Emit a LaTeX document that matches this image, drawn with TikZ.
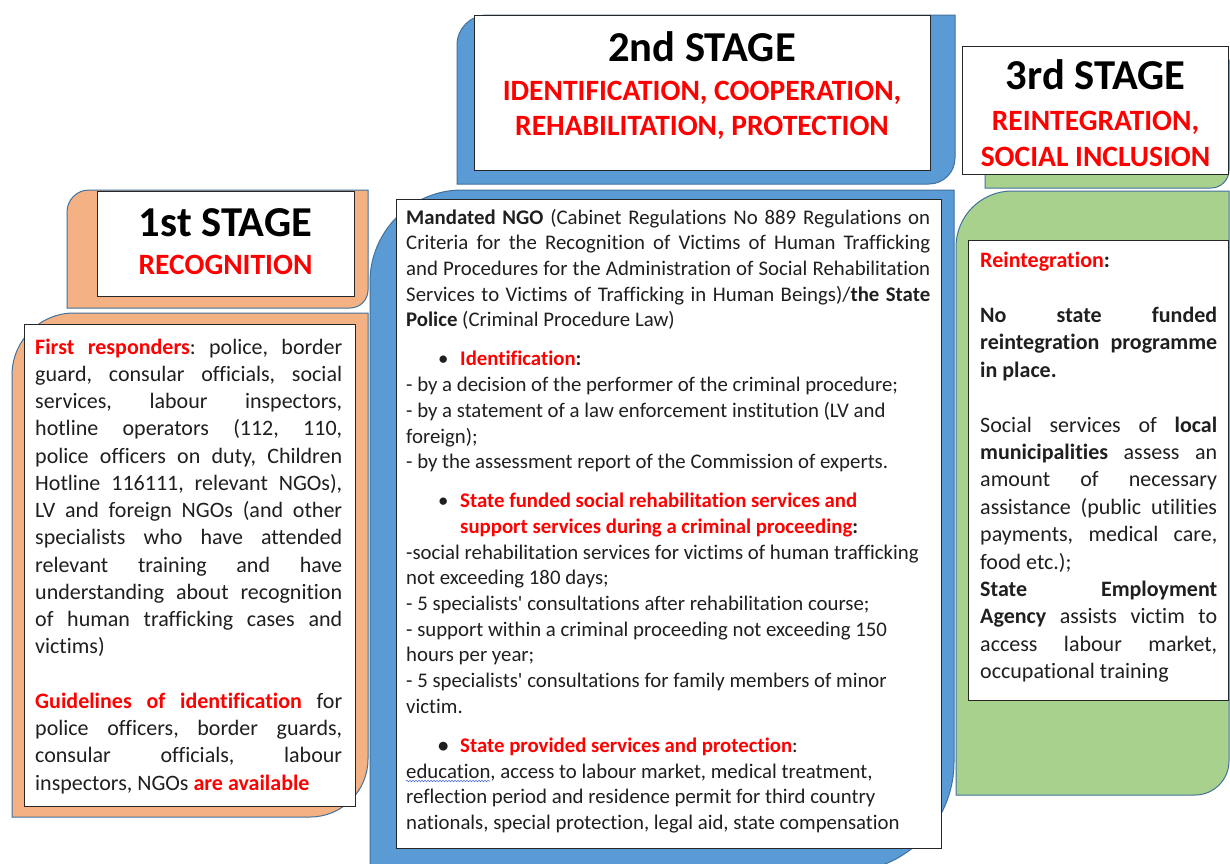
\documentclass[tikz,border=0pt]{standalone}
\usepackage{fontspec}
\setmainfont{Carlito}[Ligatures=NoCommon]
\usetikzlibrary{decorations.pathmorphing}
\frenchspacing
\definecolor{orfill}{HTML}{F4B183}
\definecolor{blfill}{HTML}{5B9BD5}
\definecolor{grfill}{HTML}{A9D18E}
\definecolor{bgline}{HTML}{41719C}
\definecolor{txt}{HTML}{1F1F1F}
\definecolor{redt}{HTML}{FF0000}
\definecolor{squig}{HTML}{4A6FE0}
% round diagonal corner rectangle: style, x1, y1 (top), x2, y2 (bottom), r top-left, r bottom-right
\newcommand{\rdbox}[7]{%
\draw[#1] ({#2},{#3+#6}) .. controls ({#2},{#3+0.448*#6}) and ({#2+0.448*#6},{#3}) .. ({#2+#6},{#3})
 -- ({#4},{#3}) -- ({#4},{#5-#7}) .. controls ({#4},{#5-0.448*#7}) and ({#4-0.448*#7},{#5}) .. ({#4-#7},{#5})
 -- ({#2},{#5}) -- cycle;}
\newcommand{\jl}[2]{{\spaceskip=0pt\xspaceskip=0pt\makebox[#1pt][s]{#2}}}
\newcommand{\redb}[1]{\textcolor{redt}{\textbf{#1}}}
\newcommand{\bodyset}{\spaceskip=0pt\xspaceskip=0pt\hyphenpenalty=10000\exhyphenpenalty=10000\parindent=0pt\noindent}
\begin{document}
\begin{tikzpicture}[x=1pt,y=-1pt,
  bgo/.style={fill=orfill, draw=bgline, line width=1pt},
  bgb/.style={fill=blfill, draw=bgline, line width=1pt},
  bgg/.style={fill=grfill, draw=bgline, line width=1pt},
  frame/.style={draw=black!85, fill=white, line width=1.1pt, inner sep=0pt, anchor=north west},
  body/.style={inner sep=0pt, anchor=north west, text=txt},
  ttl/.style={inner sep=0pt, anchor=base, font=\bfseries\fontsize{42.6}{50}\selectfont},
  sub/.style={inner sep=0pt, anchor=base, text=redt, font=\bfseries\fontsize{29.5}{35}\selectfont}]
\useasboundingbox (0,0) rectangle (1230,863);
\clip (0,0) rectangle (1230,863);
\fill[white] (0,0) rectangle (1230,863);
% backgrounds
\rdbox{bgo}{67}{190}{368}{308}{22}{18}
\rdbox{bgo}{12}{313}{368}{817}{62}{58}
\rdbox{bgb}{457}{15}{955}{184}{30}{26}
\rdbox{bgb}{370}{190}{954}{872}{92}{110}
\rdbox{bgg}{985}{60}{1229}{188}{22}{18}
\rdbox{bgg}{956}{191}{1229}{795}{56}{34}
% frames
\node[frame, minimum width=257pt, minimum height=105pt] (f1t) at (97,191) {};
\node[frame, minimum width=456pt, minimum height=155pt] (f2t) at (474,15) {};
\node[frame, minimum width=266pt, minimum height=128pt] (f3t) at (962,46) {};
\node[frame, minimum width=331pt, minimum height=482pt] (f1) at (24,324) {};
\node[frame, minimum width=545pt, minimum height=649pt] (f2) at (396,199) {};
\node[frame, minimum width=260pt, minimum height=460pt] (f3) at (968,240) {};
% titles
\node[ttl] (s1) at (225.5,236) {1st STAGE};
\node[sub] (s1b) at (225.5,274) {RECOGNITION};
\node[ttl] (s2) at (702,61) {2nd STAGE};
\node[sub] (s2b) at (702,100) {IDENTIFICATION, COOPERATION,};
\node[sub] (s2c) at (702,135) {REHABILITATION, PROTECTION};
\node[ttl] (s3) at (1095.5,89) {3rd STAGE};
\node[sub] (s3b) at (1095.5,130) {REINTEGRATION,};
\node[sub] (s3c) at (1095.5,166) {SOCIAL INCLUSION};
% body 1
\node[body, text width=327pt, font=\fontsize{22}{27.25}\selectfont] (t1) at (35,334.9) {\bodyset
\jl{307}{\strut\redb{First responders}: police, border}\\
\jl{307}{guard, consular officials, social}\\
\jl{307}{services, labour inspectors,}\\
\jl{307}{hotline operators (112, 110,}\\
\jl{307}{police officers on duty, Children}\\
\jl{307}{Hotline 116111, relevant NGOs),}\\
\jl{307}{LV and foreign NGOs (and other}\\
\jl{307}{specialists who have attended}\\
\jl{307}{relevant training and have}\\
\jl{307}{understanding about recognition}\\
\jl{307}{of human trafficking cases and}\\
victims)\\
\mbox{}\\
\jl{307}{\redb{Guidelines of identification} for}\\
\jl{307}{police officers, border guards,}\\
\jl{307}{consular officials, labour}\\
inspectors, NGOs \redb{are available}};
% body 2
\node[body, text width=544pt, font=\fontsize{20.8}{25.7}\selectfont] (t2) at (406,206) {\bodyset
\jl{524}{\strut\textbf{Mandated NGO} (Cabinet Regulations No 889 Regulations on}\\
\jl{524}{Criteria for the Recognition of Victims of Human Trafficking}\\
\jl{524}{and Procedures for the Administration of Social Rehabilitation}\\
\jl{524}{Services to Victims of Trafficking in Human Beings)/\textbf{the State}}\\
\textbf{Police} (Criminal Procedure Law)\\[13.3pt]
\hspace*{32pt}\makebox[22pt][l]{\textbullet}\redb{Identification}\textbf{:}\\
- by a decision of the performer of the criminal procedure;\\
- by a statement of a law enforcement institution (LV and\\
foreign);\\
- by the assessment report of the Commission of experts.\\[13.3pt]
\hspace*{32pt}\makebox[22pt][l]{\textbullet}\redb{State funded social rehabilitation services and}\\
\hspace*{54pt}\redb{support services during a criminal proceeding}\textbf{:}\\
-social rehabilitation services for victims of human trafficking\\
not exceeding 180 days;\\
- 5 specialists\textquotesingle{} consultations after rehabilitation course;\\
- support within a criminal proceeding not exceeding 150\\
hours per year;\\
- 5 specialists\textquotesingle{} consultations for family members of minor\\
victim.\\[13.3pt]
\hspace*{32pt}\makebox[22pt][l]{\textbf{\textbullet}}\redb{State provided services and protection}:\\
education, access to labour market, medical treatment,\\
reflection period and residence permit for third country\\
nationals, special protection, legal aid, state compensation};
\coordinate (sqa) at (406,781);
\coordinate (sqb) at (490,781);
\draw[squig, line width=0.6pt, decorate, decoration={snake, amplitude=0.7pt, segment length=3pt}] (sqa) -- (sqb);
% body 3
\node[body, text width=257pt, font=\fontsize{22}{27.4}\selectfont] (t3) at (980,248.3) {\bodyset
\strut\redb{Reintegration}\textbf{:}\\
\mbox{}\\
\jl{237}{\textbf{No state funded}}\\
\jl{237}{\textbf{reintegration programme}}\\
\textbf{in place.}\\
\mbox{}\\
\jl{237}{Social services of \textbf{local}}\\
\jl{237}{\textbf{municipalities} assess an}\\
\jl{237}{amount of necessary}\\
\jl{237}{assistance (public utilities}\\
\jl{237}{payments, medical care,}\\
food etc.);\\
\jl{237}{\textbf{State Employment}}\\
\jl{237}{\textbf{Agency} assists victim to}\\
\jl{237}{access labour market,}\\
occupational training};
\end{tikzpicture}
\end{document}
